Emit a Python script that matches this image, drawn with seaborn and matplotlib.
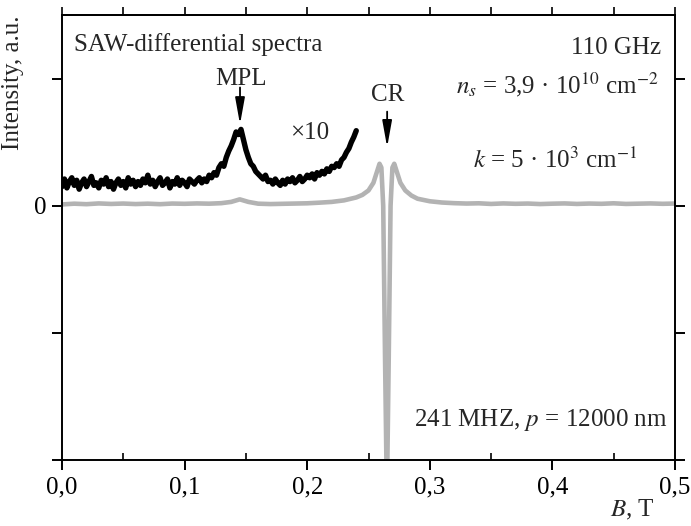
import numpy as np
import pandas as pd
import matplotlib
matplotlib.use("Agg")
import matplotlib.pyplot as plt
import seaborn as sns

# ---- data ----
black_x = [round(0.002 * i, 3) for i in range(121)]
black_y = [
    0.15, 0.21, 0.14, 0.19, 0.22, 0.16, 0.20, 0.13, 0.18, 0.21, 0.15, 0.19, 0.23, 0.16, 0.18, 0.14,
    0.20, 0.17, 0.22, 0.15, 0.19, 0.13, 0.18, 0.21, 0.16, 0.19, 0.14, 0.22, 0.17, 0.20, 0.15,
    0.19, 0.16, 0.21, 0.18, 0.24, 0.17, 0.20, 0.15, 0.19, 0.22, 0.16, 0.18, 0.21, 0.14, 0.19,
    0.17, 0.22, 0.16, 0.20, 0.18, 0.15, 0.21, 0.19, 0.17, 0.20, 0.22, 0.18, 0.21, 0.19, 0.24,
    0.22, 0.26, 0.24, 0.30, 0.33, 0.31, 0.38, 0.43, 0.47, 0.52, 0.58, 0.56, 0.60, 0.52, 0.44,
    0.38, 0.33, 0.31, 0.27, 0.25,
    0.23, 0.21, 0.24, 0.19, 0.20, 0.17, 0.21, 0.18, 0.16, 0.20, 0.17, 0.21, 0.19, 0.22, 0.18,
    0.20, 0.23, 0.19, 0.21, 0.24,
    0.22, 0.25, 0.21, 0.26, 0.24, 0.27, 0.25, 0.29, 0.27, 0.31, 0.30, 0.33, 0.31, 0.36, 0.38,
    0.42, 0.45, 0.50, 0.54, 0.59,
]

gray_x = [0.000, 0.010, 0.020, 0.030, 0.040, 0.050, 0.060, 0.070, 0.080, 0.090, 0.100, 0.110,
          0.120, 0.130, 0.138, 0.145, 0.152, 0.160, 0.170, 0.180, 0.190, 0.200, 0.210, 0.220,
          0.230, 0.240, 0.245, 0.250, 0.254, 0.257, 0.259, 0.2605, 0.262, 0.2635, 0.265, 0.2665,
          0.268, 0.2695, 0.271, 0.273, 0.276, 0.280, 0.285, 0.290, 0.300, 0.310, 0.320, 0.330,
          0.340, 0.350, 0.360, 0.370, 0.380, 0.390, 0.400, 0.410, 0.420, 0.430, 0.440, 0.450,
          0.460, 0.470, 0.480, 0.490, 0.500]
gray_y = [0.010, 0.016, 0.012, 0.018, 0.014, 0.017, 0.013, 0.016, 0.012, 0.017, 0.015, 0.018,
          0.016, 0.020, 0.030, 0.050, 0.030, 0.016, 0.013, 0.015, 0.017, 0.019, 0.024, 0.030,
          0.042, 0.065, 0.085, 0.120, 0.180, 0.270, 0.330, 0.300, 0.000, -1.200, -2.300, -1.200,
          0.000, 0.300, 0.330, 0.270, 0.180, 0.120, 0.080, 0.055, 0.035, 0.025, 0.020, 0.017,
          0.019, 0.014, 0.018, 0.015, 0.017, 0.013, 0.016, 0.018, 0.014, 0.017, 0.015, 0.019,
          0.014, 0.016, 0.018, 0.015, 0.017]

xticks_major = [0.0, 0.1, 0.2, 0.3, 0.4, 0.5]
xtick_labels = ["0,0", "0,1", "0,2", "0,3", "0,4", "0,5"]
xticks_minor = [0.05, 0.15, 0.25, 0.35, 0.45]
yticks = [-2, -1, 0, 1]
ytick_labels = ["", "", "0", ""]

# ---- style ----
sns.set_theme(style="ticks")
plt.rcParams["font.family"] = ["Liberation Serif", "DejaVu Serif"]
plt.rcParams["mathtext.fontset"] = "stix"
FS = 18

fig = plt.figure(figsize=(6.91, 5.26), dpi=100)
ax = fig.add_axes([62 / 691, 66 / 526, 613 / 691, 445 / 526])

df_g = pd.DataFrame({"B": gray_x, "I": gray_y})
df_b = pd.DataFrame({"B": black_x, "I": black_y})
sns.lineplot(data=df_g, x="B", y="I", ax=ax, color="#b3b3b3", lw=3.3,
             estimator=None, sort=False, solid_joinstyle="round")
sns.lineplot(data=df_b, x="B", y="I", ax=ax, color="black", lw=3.9,
             estimator=None, sort=False, solid_joinstyle="round")

ax.set_xlim(0, 0.5)
ax.set_ylim(-2, 1.5)

for s in ax.spines.values():
    s.set_visible(True)
    s.set_linewidth(1.4)
    s.set_color("black")

ax.set_xticks(xticks_major, labels=xtick_labels)
ax.set_xticks(xticks_minor, minor=True)
ax.set_yticks(yticks, labels=ytick_labels)
ax.tick_params(axis="x", which="major", direction="out", length=7, width=1.4,
               labelsize=FS, pad=5, colors="black")
ax.tick_params(axis="x", which="minor", direction="in", length=5, width=1.4)
ax.tick_params(axis="y", which="major", direction="out", length=7, width=1.4,
               labelsize=FS, pad=4, left=True, right=True, colors="black")
ax.tick_params(axis="y", which="minor", left=False, right=False)

sec = ax.secondary_xaxis("top")
sec.set_xticks([0.05 * i for i in range(11)])
sec.set_xticklabels([])
sec.tick_params(direction="out", length=6, width=1.4)
sec.spines["top"].set_linewidth(1.4)

ax.set_xlabel("$B$, T", fontsize=FS)
ax.xaxis.set_label_coords(0.967, -0.085)
ax.xaxis.label.set_horizontalalignment("right")
ax.set_ylabel("Intensity, a.u.", fontsize=FS, loc="top")
ax.yaxis.set_label_coords(-0.062, 1.0)

ax.text(0.0098, 1.27, "SAW-differential spectra", fontsize=FS, ha="left", va="center")
ax.text(0.146, 1.0, "MPL", fontsize=FS, ha="center", va="center")
ax.text(0.2023, 0.575, "×10", fontsize=FS, ha="center", va="center")
ax.text(0.2655, 0.87, "CR", fontsize=FS, ha="center", va="center")
ax.text(0.4886, 1.244, "110 GHz", fontsize=FS, ha="right", va="center")
ax.text(0.4865, 0.95, "$n_s$ = 3,9 · 10$^{10}$ cm$^{-2}$", fontsize=FS, ha="right", va="center")
ax.text(0.4025, 0.36, "$k$ = 5 · 10$^{3}$ cm$^{-1}$", fontsize=FS, ha="center", va="center")
ax.text(0.4935, -1.685, "241 MHZ, $p$ = 12000 nm", fontsize=FS, ha="right", va="center")

arrow = dict(arrowstyle="-|>,head_length=1.0,head_width=0.18", color="black", lw=1.3,
             mutation_scale=16, shrinkA=0, shrinkB=0)
ax.annotate("", xy=(0.1452, 0.64), xytext=(0.1452, 0.93), arrowprops=arrow)
ax.annotate("", xy=(0.2652, 0.46), xytext=(0.2652, 0.74), arrowprops=arrow)

fig.savefig("out.png", dpi=100)
